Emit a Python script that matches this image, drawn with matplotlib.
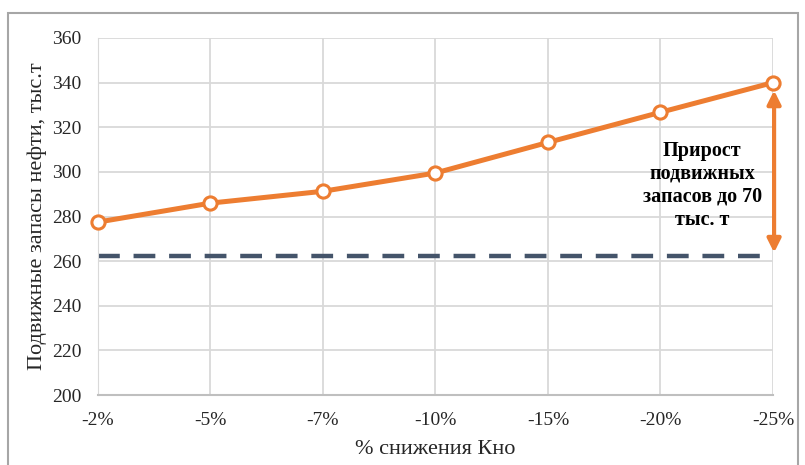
import matplotlib.pyplot as plt
from matplotlib.patches import Rectangle

# данные
categories = ['-2%', '-5%', '-7%', '-10%', '-15%', '-20%', '-25%']
reserves = [277.5, 286, 291.3, 299.5, 313.2, 326.7, 340]
base_level = 262.3

plt.rcParams['font.family'] = ['Liberation Serif', 'DejaVu Serif']

orange = '#ED7D31'
navy = '#44546A'

fig = plt.figure(figsize=(8.05, 4.65), dpi=100)
ax = fig.add_axes([0.1217, 0.1505, 0.8385, 0.7678])

x = list(range(len(categories)))

ax.plot([x[0], x[-1] - 0.05], [base_level, base_level], color=navy, lw=3.2,
        dashes=(4.9, 3.1), zorder=2)
ax.plot(x, reserves, color=orange, lw=3.6, marker='o', markersize=9.5,
        markerfacecolor='white', markeredgecolor=orange, markeredgewidth=2.2,
        zorder=4, clip_on=False)

# стрелка прироста
ax.annotate('', xy=(x[-1] + 0.01, reserves[-1] - 3.5), xytext=(x[-1] + 0.01, base_level + 1.5),
            arrowprops=dict(arrowstyle='<|-|>', color=orange, lw=3,
                            mutation_scale=20, shrinkA=0, shrinkB=0), zorder=3,
            annotation_clip=False)
ax.text(5.37, 294, 'Прирост\nподвижных\nзапасов до 70\nтыс. т', ha='center',
        va='center', fontsize=14.5, fontweight='bold', linespacing=1.2, zorder=5)

ax.set_xlim(x[0], x[-1])
ax.set_ylim(200, 360)
ax.set_yticks(range(200, 361, 20))
ax.set_xticks(x)
ax.set_xticklabels(categories)
ax.tick_params(length=0, labelsize=14, colors='#262626')
ax.tick_params(axis='y', pad=12)
ax.tick_params(axis='x', pad=12)
ax.grid(True, color='#D9D9D9', lw=1.3)
ax.set_axisbelow(True)
for s in ['top', 'right']:
    ax.spines[s].set_visible(False)
ax.spines['left'].set_color('#D9D9D9')
ax.spines['bottom'].set_color('#BFBFBF')
ax.spines['bottom'].set_linewidth(1.5)

fig.text(37 / 805, 1 - 216 / 465, 'Подвижные запасы нефти, тыс.т', rotation=90,
         ha='center', va='center', fontsize=16, color='#262626')
fig.text(435 / 805, 1 - 449 / 465, '% снижения Кно', ha='center', va='center',
         fontsize=16, color='#262626')

fig.patches.append(Rectangle((8 / 805, -0.05), 790 / 805, 1 - 13 / 465 + 0.05,
                             transform=fig.transFigure, fill=False,
                             edgecolor='#A6A6A6', lw=1.5))

fig.savefig('out.png', dpi=100)
